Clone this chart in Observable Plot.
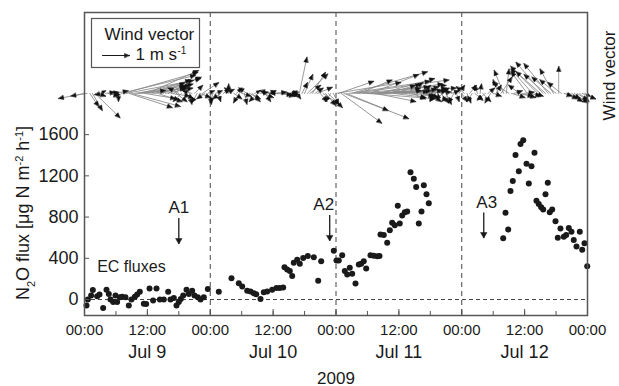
<!DOCTYPE html>
<html><head><meta charset="utf-8">
<script src="https://cdn.jsdelivr.net/npm/d3@7"></script>
<script src="https://cdn.jsdelivr.net/npm/@observablehq/plot@0.6"></script>
<style>body{margin:0;background:#fff;} svg{display:block}</style>
</head><body><div id="chart"></div>
<script>
// ---- data (hours since 2009-07-09 00:00 UTC) ----
const fluxHours = [
  0.38,0.64,1.27,1.59,2.42,2.86,3.56,4.2,4.64,4.96,5.47,5.92,6.23,6.74,7.19,7.82,8.46,8.97,9.61,10.05,10.56,11.32,11.77,12.41,13.1,13.74,14.38,15.14,15.97,16.41,17.05,17.56,18.0,18.38,18.83,19.47,19.91,20.55,20.99,21.63,22.14,22.77,23.54,
  25.63,28.05,29.45,30.10,31.05,31.68,32.31,32.77,33.59,34.22,34.87,35.82,36.64,37.27,37.92,38.17,38.68,39.18,39.64,39.94,40.59,41.09,41.74,42.62,43.76,44.60,45.17,47.58,
  48.09,48.53,49.18,49.68,50.14,50.63,51.09,51.72,52.35,52.81,53.30,53.76,54.58,55.21,55.86,56.30,56.49,57.12,57.77,58.27,58.72,59.22,59.79,60.17,60.63,61.13,61.59,62.22,62.85,63.30,63.80,64.32,64.76,65.27,65.71,
  79.91,80.35,80.86,81.30,81.74,82.26,82.89,83.21,83.73,84.36,84.80,85.31,85.88,86.26,86.70,87.16,87.54,87.98,88.42,88.80,89.26,89.89,90.33,90.84,91.48,91.93,92.43,92.94,93.38,93.90,94.53,94.99,95.43,95.95
];
const fluxValues = [
  -58,0,38,92,32,48,-82,95,54,0,-25,38,-25,22,28,22,-57,0,28,48,76,-41,-44,108,-10,108,0,0,76,0,16,-57,-25,6,38,95,54,86,38,22,0,22,102,
  76,206,159,127,86,79,60,51,6,70,79,95,111,111,117,314,292,276,229,356,387,346,403,422,410,181,371,473,
  378,378,429,276,244,308,251,156,340,346,371,302,429,425,419,422,632,625,552,673,746,721,911,737,816,848,854,1235,1171,1092,737,854,1108,1022,933,
  594,841,679,1054,1149,1403,1244,1508,1546,1317,1127,1292,1425,959,927,895,873,1022,1133,848,873,759,600,689,610,625,695,657,578,514,657,483,546,324
];
// wind vector components (m/s), one every 30 min from Jul 9 00:00
const windStartHour = 0, windStepHours = 0.5;
const windU = [
  -0.96,-0.6,0.33,0.37,0.93,0.3,0.2,-0.3,0.35,0.4,0.3,0.25,0.45,0,2.75,2.74,2.48,1.6,1.8,2.07,1.06,2.26,1.6,1.14,1.89,1.5,1.3,1.7,0.9,1.2,0.8,1.0,0.6,0.7,0.5,0.4,-0.4,-0.3,0.35,-0.25,0.1,-0.35,0.3,-0.2,0.4,0.6,-0.3,0.25,
  0.05,-0.1,0.25,0.1,-0.3,0.2,0.3,0,-0.25,0.3,0.2,-0.2,0.35,0.1,-0.3,0.4,0.3,0.2,-0.3,0.3,0.4,0.2,0.3,-0.4,0.5,0.6,-0.3,0.5,0.6,0.45,0.3,0.2,0.1,0.15,0.28,0.2,0.3,0.76,0.4,0.48,0.3,0.54,0.25,0.6,0.37,0.53,-0.2,0.2,
  2.4,1.3,1.5,2.4,1.54,3.0,2.8,3.5,3.3,1.2,2.2,3.2,2.5,1.8,2.6,1.5,2.9,2.0,2.4,1.6,1.0,1.9,1.2,0.9,1.4,0.7,1.1,0.6,0.8,0.5,0.9,0.4,0.6,0.3,0.5,0.7,0.4,0.5,-0.2,0.4,0.3,-0.3,0.2,-0.25,0.3,-0.2,0.1,0.2,
  0.2,-0.3,0.15,0.25,-0.2,0.3,-0.1,0.05,0.3,-0.3,0.25,-0.2,0.3,0.2,-0.2,0.4,-0.35,0.1,-0.6,0.5,0.3,0.6,-0.4,0.5,0.35,-0.6,0.4,-0.8,0.3,-1.0,-0.9,-1.0,-0.8,-0.9,-0.7,-0.5,-0.6,0.0,-0.5,0.3,0.4,0.5,0.3,0.5,0.4,0.35,0.5,0.2
];
const windV = [
  -0.19,-0.1,-0.48,-0.63,-0.9,-0.1,0.1,-0.05,0.05,-0.1,0.05,-0.05,0.1,-0.3,0.67,0.78,0.48,-0.52,-0.48,0.3,0.11,0.55,0.19,-0.19,0.85,0.5,0.2,0.6,-0.3,0.35,0.4,0.2,0.3,-0.1,0.3,-0.3,0.2,-0.3,-0.2,0.35,-0.4,0.1,0.3,-0.35,-0.15,0.4,-0.2,0.1,
  -0.4,-0.35,0.1,-0.3,-0.2,0.15,0.15,0.35,0.2,-0.2,0.2,-0.35,-0.1,-0.4,0.2,-0.2,-0.3,0.1,-0.3,0.05,-0.15,-0.3,0.1,0.1,0.05,-0.05,0,-0.1,-0.05,0.05,0,-0.1,0.1,-0.2,1.34,0.4,0.7,0.72,0.3,0.78,0.2,0.23,-0.3,-0.4,-0.44,-0.52,-0.3,-0.4,
  0.4,0.45,-1.1,-0.93,-0.63,0.45,0.8,0.5,0.3,0.5,0.1,0.05,-0.2,0.7,0.35,-0.3,0.2,0.55,0.15,0.25,0.3,0.1,-0.15,0.35,0.15,0.2,-0.1,0.4,0.1,-0.2,0.25,0.1,-0.1,0.3,-0.15,0.2,-0.3,0.1,-0.3,0.2,-0.35,-0.2,-0.4,-0.3,0.1,-0.35,-0.3,0.3,
  -0.3,0.25,-0.35,0.3,-0.3,-0.25,0.3,0.35,-0.3,-0.25,0.2,-0.35,-0.1,0.3,0.5,0.6,0.85,0.9,0.4,-0.15,0.1,-0.1,0.3,-0.15,0.05,0.8,-0.1,0.9,-0.1,1.0,0.8,1.15,0.7,1.1,0.6,0.9,0.5,1.0,0.4,-0.1,-0.2,-0.3,-0.2,-0.35,-0.25,-0.3,-0.2,-0.1
];
const windBaseline = 2000;           // flux-axis level on which the wind vectors sit
const legendSpeed = [1];             // m/s
const tickHours = [0,12,24,36,48,60,72,84,96];
const tickLabels = ["00:00","12:00","00:00","12:00","00:00","12:00","00:00","12:00","00:00"];
const minorTickHours = [0,6,12,18,24,30,36,42,48,54,60,66,72,78,84,90,96];
const dayMidHours = [12,36,60,84];
const dayLabels = ["Jul 9","Jul 10","Jul 11","Jul 12"];
const dayBoundaryHours = [24,48,72];
const yTicks = [0,400,800,1200,1600];
const annotLabels = ["A1","A2","A3"];
const annotHours = [18.0,46.8,76.2];
const annotTextY = [835,865,890];
const annotArrowTop = [790,820,845];
const annotArrowTip = [540,570,598];
const annotTextDx = [0,-6,3];
const ecLabel = ["EC fluxes"];
const ecHour = 2.42, ecY = 265;

// ---- build ----
const base = Date.UTC(2009, 6, 9);
const toDate = h => new Date(base + h * 3600e3);
const flux = fluxHours.map((h, i) => ({time: toDate(h), value: fluxValues[i]}));
const wind = windU.map((u, i) => ({
  time: toDate(windStartHour + i * windStepHours), y: windBaseline,
  speed: Math.hypot(u, windV[i]), dir: Math.atan2(u, windV[i]) * 180 / Math.PI
}));
const annots = annotLabels.map((t, i) => ({t, x: toDate(annotHours[i]), ty: annotTextY[i], y1: annotArrowTop[i], y2: annotArrowTip[i], dx: annotTextDx[i]}));
const tickMap = new Map(tickHours.map((h, i) => [+toDate(h), tickLabels[i]]));
const dayMap = new Map(dayMidHours.map((h, i) => [+toDate(h), dayLabels[i]]));

const shaft = {draw(ctx, l) { ctx.moveTo(0, 0); ctx.lineTo(0, -l); }};
const head = {draw(ctx, l) {
  if (l < 0.5) return;
  const h = Math.min(5, l * 0.6), w = h * 0.42;
  ctx.moveTo(0, -l); ctx.lineTo(-w, -l + h); ctx.lineTo(w, -l + h); ctx.closePath();
}};
const ink = "#1a1a1a", axisGray = "#555";

const plot = Plot.plot({
  width: 619, height: 386,
  marginLeft: 84, marginRight: 32, marginTop: 12, marginBottom: 71,
  style: {fontFamily: "'Liberation Sans', Arial, sans-serif", fontSize: "15px", color: ink, background: "white"},
  x: {type: "utc", domain: [toDate(0), toDate(96)]},
  y: {domain: [-155, 2785]},
  length: {domain: [0, 1], range: [0, 27]},
  marks: [
    Plot.ruleX(dayBoundaryHours.map(toDate), {stroke: "#444", strokeWidth: 1, strokeDasharray: "5,4"}),
    Plot.ruleY([0], {stroke: "#444", strokeWidth: 1, strokeDasharray: "4,3"}),
    Plot.dot(flux, {x: "time", y: "value", r: 3, fill: ink}),
    Plot.vector(wind, {x: "time", y: "y", length: "speed", rotate: "dir", anchor: "start", shape: shaft, stroke: "#8a8a8a", strokeWidth: 0.8}),
    Plot.vector(wind, {x: "time", y: "y", length: "speed", rotate: "dir", anchor: "start", shape: head, fill: "#111", stroke: "#111", strokeWidth: 0.5}),
    Plot.frame({stroke: axisGray, strokeWidth: 1.5}),
    // legend box
    Plot.frame({insetLeft: 7, insetTop: 6, insetRight: 388, insetBottom: 248, fill: "white", stroke: axisGray, strokeWidth: 1.2}),
    Plot.text(["Wind vector"], {text: d => d, frameAnchor: "top-left", dx: 20, dy: 27.3, textAnchor: "start", lineAnchor: "bottom", fontSize: 17}),
    Plot.vector(legendSpeed, {frameAnchor: "top-left", dx: 18, dy: 43, length: d => d, rotate: 90, anchor: "start", shape: shaft, stroke: ink, strokeWidth: 1}),
    Plot.vector(legendSpeed, {frameAnchor: "top-left", dx: 18, dy: 43, length: d => d, rotate: 90, anchor: "start", shape: head, fill: ink, stroke: ink, strokeWidth: 0.5}),
    Plot.text(["1 m s"], {text: d => d, frameAnchor: "top-left", dx: 51, dy: 47.3, textAnchor: "start", lineAnchor: "bottom", fontSize: 17}),
    Plot.text(["-1"], {text: d => d, frameAnchor: "top-left", dx: 93, dy: 41.5, textAnchor: "start", lineAnchor: "bottom", fontSize: 10}),
    // right label
    Plot.text(["Wind vector"], {text: d => d, frameAnchor: "top-right", dx: 27, dy: 63, rotate: -90, textAnchor: "middle", lineAnchor: "bottom", fontSize: 17}),
    // annotations
    Plot.link(annots, {x1: "x", x2: "x", y1: "y1", y2: "y2", stroke: ink, strokeWidth: 1.3}),
    Plot.dot(annots, {x: "x", y: "y2", symbol: "triangle", rotate: 180, r: 2.4, dy: -3.5, fill: ink, stroke: ink, strokeWidth: 0.5}),
    ...annots.map(a => Plot.text([a], {x: "x", y: "ty", text: "t", dx: a.dx, fontSize: 17, lineAnchor: "bottom"})),
    Plot.text(ecLabel, {text: d => d, x: () => toDate(ecHour), y: () => ecY, textAnchor: "start", lineAnchor: "bottom", fontSize: 16}),
    // axes
    Plot.axisX({ticks: minorTickHours.map(toDate), tickSize: -4, tickFormat: () => "", stroke: axisGray, label: null}),
    Plot.axisX({ticks: tickHours.map(toDate), tickSize: -6, tickFormat: () => "", stroke: axisGray, label: null}),
    Plot.axisX({ticks: tickHours.map(toDate), tickSize: 0, tickPadding: 9, tickFormat: d => tickMap.get(+d), fontSize: 15, label: null}),
    Plot.axisX({ticks: dayMidHours.map(toDate), tickSize: 0, tickPadding: 30, tickFormat: d => dayMap.get(+d), fontSize: 18, label: null}),
    Plot.text(["2009"], {text: d => d, frameAnchor: "bottom", dy: 68, lineAnchor: "bottom", fontSize: 17}),
    Plot.axisY({ticks: yTicks, tickSize: -5, tickFormat: () => "", stroke: axisGray, label: null}),
    Plot.axisY({ticks: yTicks, tickSize: 0, tickPadding: 6, tickFormat: d3.format("d"), fontSize: 18, label: null})
  ]
});
document.getElementById("chart").append(plot);

// y-axis title with subscript/superscripts
const t = d3.select(plot).append("text")
  .attr("transform", "translate(29,213) rotate(-90)")
  .attr("text-anchor", "middle").attr("font-size", 18).attr("fill", ink);
t.append("tspan").text("N");
t.append("tspan").attr("font-size", 11).attr("baseline-shift", "sub").text("2");
t.append("tspan").text("O flux [μg N m");
t.append("tspan").attr("font-size", 11).attr("baseline-shift", "super").text("-2");
t.append("tspan").text(" h");
t.append("tspan").attr("font-size", 11).attr("baseline-shift", "super").text("-1");
t.append("tspan").text("]");
</script>
</body></html>
